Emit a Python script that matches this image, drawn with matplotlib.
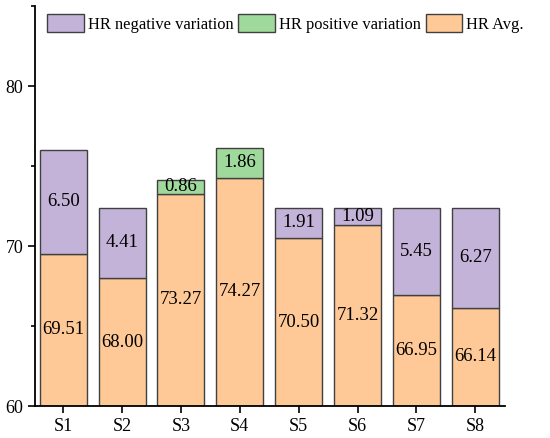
import matplotlib
matplotlib.use("Agg")
import matplotlib.pyplot as plt
from matplotlib.ticker import MultipleLocator

categories = ["S1", "S2", "S3", "S4", "S5", "S6", "S7", "S8"]
hr_avg = [69.51, 68.00, 73.27, 74.27, 70.50, 71.32, 66.95, 66.14]
hr_neg = [6.50, 4.41, 0, 0, 1.91, 1.09, 5.45, 6.27]
hr_pos = [0, 0, 0.86, 1.86, 0, 0, 0, 0]
base = 60

plt.rcParams['font.family'] = ['Liberation Serif', 'DejaVu Serif']

fig = plt.figure(figsize=(5.5, 4.38), dpi=100)
ax = fig.add_axes([0.0636, 0.073, 0.854, 0.913])

c_avg = "#FFC997"
c_neg = "#C4B3D9"
c_pos = "#9FD99C"
ec = "#404040"
x = list(range(len(categories)))
avg_h = [v - base for v in hr_avg]
w = 0.8
ax.bar(x, avg_h, w, bottom=base, color=c_avg, edgecolor=ec, linewidth=1.0, label="HR Avg.", zorder=2)
neg_x = [i for i in x if hr_neg[i] > 0]
ax.bar(neg_x, [hr_neg[i] for i in neg_x], w, bottom=[hr_avg[i] for i in neg_x],
       color=c_neg, edgecolor=ec, linewidth=1.0, label="HR negative variation", zorder=2)
pos_x = [i for i in x if hr_pos[i] > 0]
ax.bar(pos_x, [hr_pos[i] for i in pos_x], w, bottom=[hr_avg[i] for i in pos_x],
       color=c_pos, edgecolor=ec, linewidth=1.0, label="HR positive variation", zorder=2)

fs = 13.5
for i in x:
    ax.text(i, base + avg_h[i] / 2, f"{hr_avg[i]:.2f}", ha="center", va="center", fontsize=fs, zorder=3)
    if hr_neg[i] > 0:
        ax.text(i, hr_avg[i] + hr_neg[i] / 2, f"{hr_neg[i]:.2f}", ha="center", va="center", fontsize=fs, zorder=3)
    if hr_pos[i] > 0:
        ax.text(i, hr_avg[i] + hr_pos[i] / 2, f"{hr_pos[i]:.2f}", ha="center", va="center", fontsize=fs, zorder=3)

ax.set_xlim(-0.48, 7.5)
ax.set_ylim(60, 85)
ax.set_xticks(x)
ax.set_xticklabels(categories)
ax.yaxis.set_major_locator(MultipleLocator(10))
ax.yaxis.set_minor_locator(MultipleLocator(5))
ax.tick_params(axis="both", direction="out", labelsize=13, width=1.2, length=5)
ax.tick_params(axis="y", which="minor", direction="out", width=1.2, length=3)
for s in ["top", "right"]:
    ax.spines[s].set_visible(False)
for s in ["left", "bottom"]:
    ax.spines[s].set_linewidth(1.3)

handles, labels = ax.get_legend_handles_labels()
order = [1, 2, 0]
ax.legend([handles[i] for i in order], [labels[i] for i in order], ncol=3, frameon=False,
          loc="upper left", bbox_to_anchor=(0.005, 1.005), fontsize=11.9,
          handlelength=2.2, handleheight=1.3, columnspacing=0.3, handletextpad=0.25, borderaxespad=0.2)

fig.savefig("out.png", dpi=100)
